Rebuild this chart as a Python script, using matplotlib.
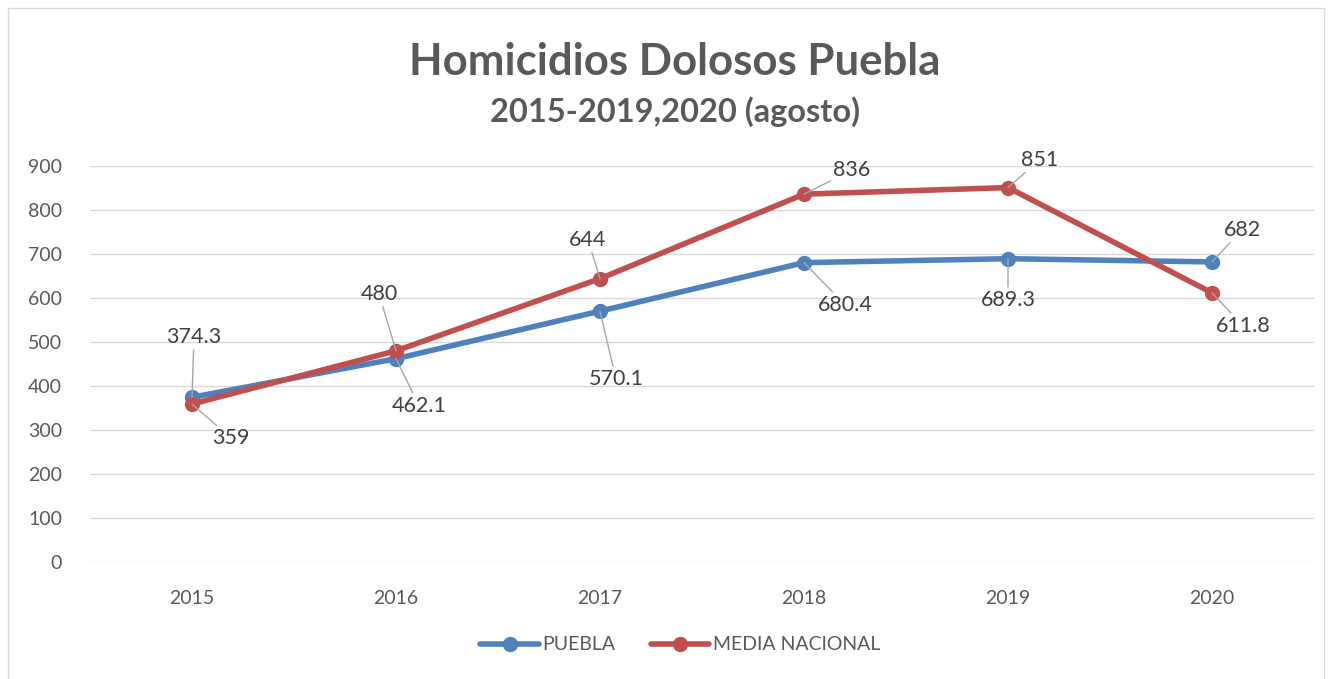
"""Homicidios dolosos Puebla vs media nacional"""

import matplotlib
matplotlib.use('Agg')
import matplotlib.pyplot as plt
from matplotlib.patches import Rectangle

years = ['2015', '2016', '2017', '2018', '2019', '2020']
puebla = [374.3, 462.1, 570.1, 680.4, 689.3, 682]
media_nacional = [359, 480, 644, 836, 851, 611.8]

# label offsets in pixels (dx, dy) from each point
puebla_off = [(2, 60), (23, -47), (16, -68), (41, -42), (0, -41), (30, 32)]
media_off = [(39, -34), (-17, 57), (-12, 39), (48, 24), (32, 28), (31, -33)]

BLUE = '#4f81bd'
RED = '#c0504d'
TXT = '#595959'

plt.rcParams['font.family'] = ['Lato', 'DejaVu Sans']

fig = plt.figure(figsize=(13.29, 6.79), dpi=100)
ax = fig.add_axes([90 / 1329, 1 - 562 / 679, (1314 - 90) / 1329, (562 - 166) / 679])

x = list(range(len(years)))
ax.plot(x, puebla, color=BLUE, lw=4, marker='o', ms=10, label='PUEBLA',
        solid_capstyle='round', clip_on=False, zorder=3)
ax.plot(x, media_nacional, color=RED, lw=4, marker='o', ms=10,
        label='MEDIA NACIONAL', solid_capstyle='round', clip_on=False, zorder=4)

for series, offs in ((puebla, puebla_off), (media_nacional, media_off)):
    for xi, v, (dx, dy) in zip(x, series, offs):
        ax.annotate(f'{v:g}', (xi, v), xytext=(dx, dy), textcoords='offset pixels',
                    ha='center', va='center', fontsize=15.5, color='#404040',
                    arrowprops=dict(arrowstyle='-', color='#a6a6a6', lw=1,
                                    shrinkA=0, shrinkB=0),
                    zorder=5)

ax.set_xlim(-0.5, 5.5)
ax.set_ylim(0, 900)
ax.set_yticks(range(0, 901, 100))
ax.set_xticks(x)
ax.set_xticklabels(years)
ax.grid(axis='y', color='#d9d9d9', lw=1)
ax.set_axisbelow(True)
for s in ax.spines.values():
    s.set_visible(False)
ax.tick_params(length=0, labelsize=14, labelcolor=TXT)
ax.tick_params(axis='y', pad=20)
ax.tick_params(axis='x', pad=20)

fig.text(0.508, 1 - 62 / 679, 'Homicidios Dolosos Puebla', ha='center', va='center',
         fontsize=31.5, fontweight='bold', color=TXT)
fig.text(0.508, 1 - 112 / 679, '2015-2019,2020 (agosto)', ha='center', va='center',
         fontsize=23.5, fontweight='bold', color=TXT)

fig.legend(loc='center', bbox_to_anchor=(0.512, 1 - 645 / 679), ncol=2, frameon=False,
           fontsize=14, labelcolor=TXT, handlelength=3.0, columnspacing=1.8,
           handletextpad=0.2)

fig.patches.append(Rectangle((8 / 1329, -0.01), 1316 / 1329, 1 - 8 / 679 + 0.01,
                             transform=fig.transFigure, fill=False,
                             edgecolor='#d9d9d9', lw=1))

fig.savefig('out.png', dpi=100)
